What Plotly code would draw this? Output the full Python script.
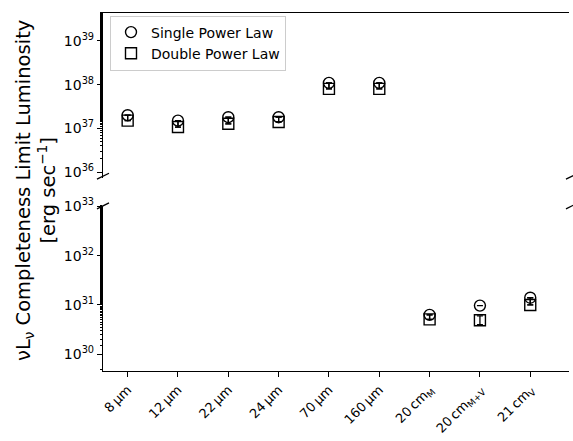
import plotly.graph_objects as go

categories = ["8\u2009\u00b5m", "12\u2009\u00b5m", "22\u2009\u00b5m", "24\u2009\u00b5m", "70\u2009\u00b5m", "160\u2009\u00b5m",
              "20\u2009cm<sub>M</sub>", "20\u2009cm<sub>M+V</sub>", "21\u2009cm<sub>V</sub>"]
single_power = [2.0e37, 1.5e37, 1.8e37, 1.8e37, 1.1e38, 1.1e38, 6.3e30, 9.7e30, 1.4e31]
double_power = [1.5e37, 1.07e37, 1.27e37, 1.4e37, 8.0e37, 8.0e37, 5.1e30, 4.9e30, 1.0e31]
top_idx = [0, 1, 2, 3, 4, 5]
bot_idx = [6, 7, 8]
y_ticks_top = [1e36, 1e37, 1e38, 1e39]
y_labels_top = ["10<sup>36</sup>", "10<sup>37</sup>", "10<sup>38</sup>", "10<sup>39</sup>"]
y_ticks_bot = [1e30, 1e31, 1e32, 1e33]
y_labels_bot = ["10<sup>30</sup>", "10<sup>31</sup>", "10<sup>32</sup>", "10<sup>33</sup>"]

xs = list(range(len(categories)))
# error bars linking the two estimates
single_minus = [s - d if i != 7 else 0 for i, (s, d) in enumerate(zip(single_power, double_power))]
double_plus = [s - d if i != 7 else 0.0 for i, (s, d) in enumerate(zip(single_power, double_power))]
double_minus = [0 if i != 7 else 0.9e30 for i in range(len(categories))]
double_plus[7] = 1.1e30

W, H = 573, 441
L, R, T, B = 103, 569, 11, 373
fig = go.Figure()

def sub(lst, idx):
    return [lst[i] for i in idx]

mk = dict(color="black", size=11, line=dict(color="black", width=1.4))
for panel, idx in (("y2", top_idx), ("y", bot_idx)):
    first = panel == "y2"
    fig.add_trace(go.Scatter(
        x=sub(xs, idx), y=sub(single_power, idx), mode="markers", name="Single Power Law",
        marker=dict(symbol="circle-open", **mk), showlegend=first,
        error_y=dict(type="data", symmetric=False, array=[0]*len(idx), arrayminus=sub(single_minus, idx),
                     color="black", thickness=1.3, width=3),
        xaxis="x" if panel == "y" else "x2", yaxis=panel))
    fig.add_trace(go.Scatter(
        x=sub(xs, idx), y=sub(double_power, idx), mode="markers", name="Double Power Law",
        marker=dict(symbol="square-open", **mk), showlegend=first,
        error_y=dict(type="data", symmetric=False, array=sub(double_plus, idx), arrayminus=sub(double_minus, idx),
                     color="black", thickness=1.3, width=3),
        xaxis="x" if panel == "y" else "x2", yaxis=panel))

pw, ph = R - L, B - T
bot_dom = [0, (B - 206) / ph]
top_dom = [(B - 178) / ph, 1]
xr = [-0.49, 8.77]
tickfont = dict(family="DejaVu Sans", size=14, color="black")
minor = dict(ticks="outside", ticklen=2, tickwidth=0.6, tickcolor="black", showgrid=False)

fig.update_layout(
    width=W, height=H,
    margin=dict(l=L, r=W - R, t=T, b=H - B),
    paper_bgcolor="white", plot_bgcolor="white",
    font=dict(family="DejaVu Sans", color="black"),
    showlegend=True,
    legend=dict(x=7 / pw, y=0.993, xanchor="left", yanchor="top",
                bgcolor="rgba(255,255,255,0.8)", bordercolor="#cccccc", borderwidth=1,
                font=dict(size=14, family="DejaVu Sans"), tracegroupgap=0,
                itemwidth=30),
    xaxis=dict(domain=[0, 1], range=xr, anchor="y", tickvals=xs, ticktext=categories, tickangle=-45,
               ticks="outside", ticklen=5, tickcolor="black", showline=True, linecolor="black",
               linewidth=1.2, showgrid=False, zeroline=False,
               tickfont=dict(family="DejaVu Sans", size=13, color="black")),
    xaxis2=dict(domain=[0, 1], range=xr, anchor="y2", side="top", showticklabels=False, ticks="",
                showline=True, linecolor="black", linewidth=1.2, showgrid=False, zeroline=False),
    yaxis=dict(domain=bot_dom, type="log", range=[29.66, 33.01], tickvals=y_ticks_bot, ticktext=y_labels_bot,
               ticks="outside", ticklen=5, tickcolor="black",
               showline=True, linecolor="black", linewidth=1.2, showgrid=False, zeroline=False,
               tickfont=tickfont, minor=minor),
    yaxis2=dict(domain=top_dom, type="log", range=[35.86, 39.64], tickvals=y_ticks_top, ticktext=y_labels_top,
                ticks="outside", ticklen=5, tickcolor="black",
                showline=True, linecolor="black", linewidth=1.2, showgrid=False, zeroline=False,
                tickfont=tickfont, minor=minor),
)

# break marks
def px2paper(xp, yp):
    return (xp - L) / pw, (B - yp) / ph

for xc in (L, R + 3):
    for yc in (176, 206):
        x0, y0 = px2paper(xc - 6, yc + 3)
        x1, y1 = px2paper(xc + 6, yc - 3)
        fig.add_shape(type="line", xref="paper", yref="paper", x0=x0, y0=y0, x1=x1, y1=y1,
                      line=dict(color="black", width=1.3))

fig.add_annotation(
    text="\u03bdL<sub>\u03bd</sub> Completeness Limit Luminosity<br>[erg sec<sup>\u22121</sup>]",
    xref="paper", yref="paper", x=(36 - L) / pw, y=(B - 191) / ph, textangle=-90,
    showarrow=False, font=dict(family="DejaVu Sans", size=19.5, color="black"),
    xanchor="center", yanchor="middle")

fig.write_html("out.html", config={"displayModeBar": False},
               post_script="document.body.style.margin='0';document.body.style.overflow='hidden';")
